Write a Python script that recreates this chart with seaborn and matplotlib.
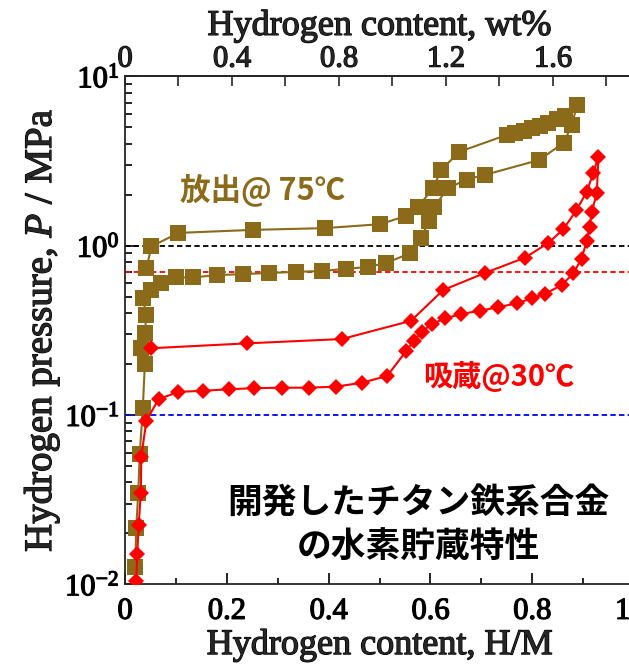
import numpy as np
import pandas as pd
import seaborn as sns
import matplotlib.pyplot as plt
import matplotlib.patheffects as pe
from matplotlib.ticker import FixedLocator, FuncFormatter, LogLocator, MultipleLocator, NullFormatter

# 75C (olive squares): absorption up, then desorption back down
olive_hm = [0.042, 0.052, 0.105, 0.251, 0.393, 0.501, 0.553, 0.576, 0.605, 0.621,
            0.657, 0.750, 0.766, 0.783, 0.799, 0.815, 0.832, 0.848, 0.864, 0.888,
            0.878, 0.862, 0.814, 0.707, 0.671, 0.634, 0.608, 0.597, 0.582, 0.559,
            0.513, 0.478, 0.435, 0.387, 0.336, 0.283, 0.232, 0.181, 0.133, 0.100,
            0.071, 0.052, 0.035, 0.042, 0.039, 0.032, 0.039, 0.035, 0.029, 0.026,
            0.022, 0.020]
olive_p = [0.735, 0.99, 1.19, 1.24, 1.27, 1.34, 1.50, 1.70, 2.18, 2.80,
           3.59, 4.51, 4.65, 4.78, 4.94, 5.12, 5.33, 5.58, 5.84, 6.78,
           5.16, 4.06, 3.21, 2.62, 2.46, 2.18, 1.70, 1.40, 1.11, 0.90,
           0.79, 0.75, 0.73, 0.71, 0.70, 0.69, 0.68, 0.67, 0.65, 0.65,
           0.60, 0.547, 0.489, 0.39, 0.304, 0.248, 0.20, 0.110, 0.059, 0.0345,
           0.0214, 0.0127]

# 30C (red diamonds)
red_hm = [0.052, 0.240, 0.426, 0.562, 0.625, 0.707, 0.786, 0.832, 0.861, 0.887,
          0.907, 0.920, 0.930, 0.927, 0.917, 0.913, 0.907, 0.897, 0.881, 0.858,
          0.825, 0.799, 0.770, 0.733, 0.697, 0.661, 0.629, 0.603, 0.583, 0.568,
          0.553, 0.515, 0.465, 0.414, 0.362, 0.308, 0.254, 0.205, 0.154, 0.105,
          0.066, 0.042, 0.032, 0.031, 0.027, 0.024, 0.022]
red_p = [0.248, 0.265, 0.281, 0.36, 0.547, 0.69, 0.85, 1.04, 1.25, 1.62,
         2.08, 2.68, 3.36, 2.04, 1.59, 1.29, 1.06, 0.84, 0.687, 0.586,
         0.519, 0.489, 0.457, 0.433, 0.413, 0.395, 0.372, 0.345, 0.31, 0.275,
         0.24, 0.17, 0.155, 0.147, 0.145, 0.145, 0.144, 0.142, 0.139, 0.137,
         0.124, 0.0925, 0.0567, 0.0345, 0.0224, 0.0151, 0.0104]

ref_lines = [1.0, 0.7, 0.1]
ref_colors = ["black", "red", "blue"]

wt_per_hm = 1.903
top_ticks = [0, 0.4, 0.8, 1.2, 1.6]

olive = "#8b6a1a"
red = "#ff0000"

sns.set_style("ticks")
plt.rcParams["font.family"] = ["Liberation Serif", "DejaVu Sans"]
plt.rcParams["mathtext.fontset"] = "custom"
plt.rcParams["mathtext.rm"] = "Liberation Serif"
plt.rcParams["mathtext.it"] = "Liberation Serif:italic"
jp = ["Noto Sans CJK JP", "DejaVu Sans"]
thick = [pe.withStroke(linewidth=0.9, foreground="black")]

W, H = 629, 666
fig = plt.figure(figsize=(W / 100, H / 100), dpi=100)
ax = fig.add_axes([125 / W, 1 - 584.3 / H, 509 / W, (584.3 - 76.4) / H])

for v, c in zip(ref_lines, ref_colors):
    ax.axhline(v, color=c, lw=1.3, ls=(0, (3, 1.8)), zorder=1)

df_o = pd.DataFrame({"hm": olive_hm, "p": olive_p})
df_r = pd.DataFrame({"hm": red_hm, "p": red_p})
sns.lineplot(data=df_o, x="hm", y="p", sort=False, estimator=None, color=olive,
             lw=1.5, marker="s", markersize=12, markeredgewidth=0, ax=ax, zorder=3)
sns.lineplot(data=df_r, x="hm", y="p", sort=False, estimator=None, color=red,
             lw=1.5, marker="D", markersize=8.2, markeredgewidth=0, ax=ax, zorder=4)

ax.set_yscale("log")
ax.set_xlim(0, 1.0)
ax.set_ylim(0.01, 10)
ax.xaxis.set_major_locator(MultipleLocator(0.2))
ax.xaxis.set_minor_locator(MultipleLocator(0.1))
ax.xaxis.set_major_formatter(FuncFormatter(lambda v, p: "0" if v == 0 else f"{v:.1f}"))
ax.yaxis.set_major_locator(FixedLocator([0.01, 0.1, 1, 10]))
ax.yaxis.set_minor_locator(LogLocator(base=10, subs=np.arange(2, 10)))
ax.yaxis.set_minor_formatter(NullFormatter())
ax.yaxis.set_major_formatter(FuncFormatter(
    lambda v, p: r"$\mathregular{10^{%d}}$" % round(np.log10(v))))

for s in ax.spines.values():
    s.set_linewidth(1.3)
ax.tick_params(which="both", direction="in", width=1.2, labelsize=22, colors="black")
ax.tick_params(axis="x", which="major", length=8, pad=9)
ax.tick_params(axis="x", which="minor", length=4)
ax.tick_params(axis="y", which="major", length=9, pad=4)
ax.tick_params(axis="y", which="minor", length=5)

top = ax.secondary_xaxis("top", functions=(lambda x: x * wt_per_hm, lambda w: w / wt_per_hm))
top.set_xticks(top_ticks)
top.xaxis.set_minor_locator(MultipleLocator(0.2))
top.xaxis.set_major_formatter(FuncFormatter(lambda v, p: "0" if v == 0 else f"{v:.1f}"))
top.tick_params(which="both", direction="in", width=1.2, length=7, labelsize=22, pad=2)
top.spines["top"].set_linewidth(1.3)
top.set_xlabel("Hydrogen content, wt%", fontsize=26, labelpad=7)

ax.set_xlabel("Hydrogen content, H/M", fontsize=26, labelpad=2)
ax.set_ylabel(r"Hydrogen pressure, $\mathit{P}$ / MPa", fontsize=28, labelpad=2)

for t in (ax.get_xticklabels() + ax.get_yticklabels() + top.get_xticklabels()
          + [ax.xaxis.label, ax.yaxis.label, top.xaxis.label]):
    t.set_path_effects(thick)

fig.text(180 / W, 1 - 190 / H, "放出@ 75℃", family=jp, weight="bold",
         fontsize=22, color=olive, ha="left", va="center")
fig.text(423 / W, 1 - 376 / H, "吸蔵@30℃", family=jp, weight="bold",
         fontsize=21, color=red, ha="left", va="center")
fig.text(418 / W, 1 - 525 / H, "開発したチタン鉄系合金\nの水素貯蔵特性", family=jp,
         weight="bold", fontsize=25, color="black", ha="center", va="center",
         multialignment="center", linespacing=1.32)

fig.savefig("out.png", dpi=100)
